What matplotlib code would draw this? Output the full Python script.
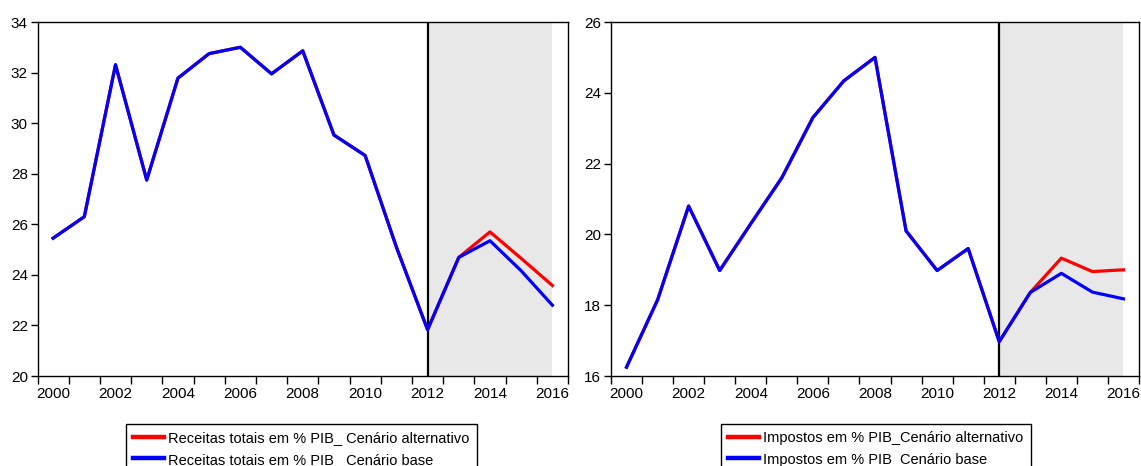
import matplotlib
matplotlib.use("Agg")
import matplotlib.pyplot as plt
from matplotlib.lines import Line2D
from matplotlib.ticker import FixedLocator

plt.rcParams["font.family"] = ["Liberation Sans", "DejaVu Sans"]

years = list(range(2000, 2017))

receitas_base = [25.45, 26.3, 32.31, 27.75, 31.78, 32.75, 33.0, 31.95, 32.86, 29.53,
                 28.72, 25.1, 21.83, 24.69, 25.35, 24.16, 22.8]
receitas_alt = [25.45, 26.3, 32.31, 27.75, 31.78, 32.75, 33.0, 31.95, 32.86, 29.53,
                28.72, 25.1, 21.83, 24.69, 25.7, 24.65, 23.58]

impostos_base = [16.25, 18.15, 20.8, 18.98, 20.3, 21.6, 23.3, 24.34, 25.0, 20.1,
                 18.98, 19.6, 16.97, 18.36, 18.9, 18.37, 18.18]
impostos_alt = [16.25, 18.15, 20.8, 18.98, 20.3, 21.6, 23.3, 24.34, 25.0, 20.1,
                18.98, 19.6, 16.97, 18.36, 19.33, 18.95, 19.0]

panels = [
    {
        "base": receitas_base, "alt": receitas_alt,
        "labels": ["Receitas totais em % PIB_ Cenário alternativo",
                   "Receitas totais em % PIB_ Cenário base"],
        "ylim": (20, 34), "yticks": list(range(20, 35, 2)),
        "rect": [37.5 / 1141, 90 / 466, 530.5 / 1141, 354 / 466],
        "legend_xy": (126 / 1141, 1 - 424 / 466),
    },
    {
        "base": impostos_base, "alt": impostos_alt,
        "labels": ["Impostos em % PIB_Cenário alternativo",
                   "Impostos em % PIB_Cenário base"],
        "ylim": (16, 26), "yticks": list(range(16, 27, 2)),
        "rect": [611 / 1141, 90 / 466, 528 / 1141, 354 / 466],
        "legend_xy": (721 / 1141, 1 - 424 / 466),
    },
]

fig = plt.figure(figsize=(11.41, 4.66), dpi=100)

for p in panels:
    ax = fig.add_axes(p["rect"])
    ax.axvspan(2012, 2016, color="#e8e8e8", lw=0, zorder=0)
    ax.axvline(2012, color="black", lw=1.6, zorder=1)
    ax.plot(years, p["alt"], color="#ff0000", lw=2.3, zorder=2)
    ax.plot(years, p["base"], color="#0000ff", lw=2.3, zorder=3)

    ax.set_xlim(1999.5, 2016.5)
    ax.set_ylim(*p["ylim"])
    ax.set_yticks(p["yticks"])
    ax.xaxis.set_major_locator(FixedLocator([y - 0.5 for y in years] + [2016.5]))
    ax.xaxis.set_major_formatter(plt.NullFormatter())
    ax.xaxis.set_minor_locator(FixedLocator(list(range(2000, 2017, 2))))
    ax.set_xticklabels([str(y) for y in range(2000, 2017, 2)], minor=True)
    ax.tick_params(axis="x", which="major", direction="out", length=6, width=1)
    ax.tick_params(axis="x", which="minor", length=0, pad=8, labelsize=11)
    ax.tick_params(axis="y", direction="out", length=5, width=1, labelsize=11, pad=2)
    for s in ax.spines.values():
        s.set_linewidth(1)
        s.set_color("black")

    handles = [Line2D([], [], color="#ff0000", lw=3.2),
               Line2D([], [], color="#0000ff", lw=3.2)]
    fig.legend(handles, p["labels"], loc="upper left", bbox_to_anchor=p["legend_xy"],
               fontsize=10.5, frameon=True, fancybox=False, edgecolor="black",
               framealpha=1, handlelength=2.1, handletextpad=0.3, borderpad=0.5,
               borderaxespad=0, labelspacing=0.5)

fig.savefig("out.png", dpi=100)
